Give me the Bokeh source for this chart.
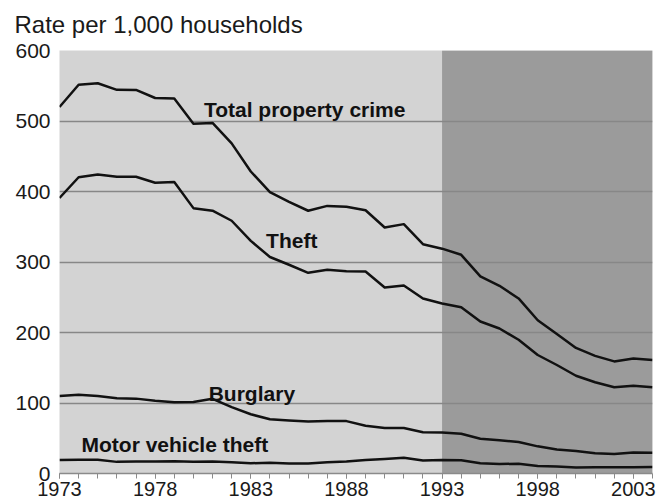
from bokeh.plotting import figure
from bokeh.models import FixedTicker
from bokeh.core.properties import value
from bokeh.embed import file_html
from bokeh.resources import INLINE

# ---- data ----
years = list(range(1973, 2005))
total_property = [519.9, 551.5, 553.6, 544.2, 544.1, 532.6, 531.8, 496.1, 497.2, 468.3,
                  428.4, 399.2, 385.4, 372.7, 379.6, 378.4, 373.4, 348.9, 353.7, 325.3,
                  318.9, 310.2, 279.5, 266.3, 248.3, 217.4, 198.0, 178.1, 166.9, 159.0,
                  163.2, 161.1]
theft = [390.8, 420.2, 424.1, 421.0, 420.9, 412.5, 413.6, 376.4, 372.8, 358.5,
         330.0, 307.1, 296.1, 284.7, 289.0, 287.0, 286.5, 263.8, 266.8, 248.2,
         241.1, 235.7, 215.6, 205.7, 189.7, 168.1, 153.9, 138.7, 129.4, 122.3,
         124.4, 122.3]
burglary = [110.0, 111.8, 110.0, 106.7, 106.2, 103.1, 100.9, 101.4, 105.9, 94.1,
            84.0, 76.9, 75.2, 73.8, 74.6, 74.3, 67.7, 64.5, 64.6, 58.6,
            58.2, 56.3, 49.3, 47.2, 44.6, 38.5, 34.1, 31.8, 28.7, 27.7,
            29.8, 29.6]
motor_vehicle = [19.1, 19.5, 19.5, 16.5, 17.0, 17.1, 17.4, 16.7, 16.9, 15.9,
                 14.6, 15.2, 14.2, 14.2, 16.0, 17.1, 19.2, 20.6, 22.2, 18.5,
                 19.0, 18.8, 14.6, 13.5, 13.8, 10.8, 10.0, 8.6, 8.8, 9.0,
                 9.0, 9.1]
label_years = [1973, 1978, 1983, 1988, 1993, 1998, 2003]
y_ticks = [0, 100, 200, 300, 400, 500, 600]
shade_start, shade_end = 1993, 2004

series_names = ["Total property crime", "Theft", "Burglary", "Motor vehicle theft"]
name_x = [1980.55, 1983.8, 1980.8, 1974.15]
name_y = [516, 330, 113, 41]

# ---- figure ----
p = figure(width=668, height=503, x_range=(1973, 2004), y_range=(0, 600),
           output_backend="svg", toolbar_location=None,
           min_border_left=59, min_border_right=16, min_border_top=50,
           min_border_bottom=30)
p.background_fill_color = "#d3d3d3"
p.border_fill_color = "white"
p.outline_line_color = None

p.title.text = "Rate per 1,000 households"
p.title.text_font = "Liberation Sans"
p.title.text_font_size = "24px"
p.title.text_font_style = "normal"
p.title.text_color = "#1a1a1a"
p.title.align = "left"
p.title.vertical_align = "top"
p.title.offset = -45
p.title.standoff = 21

# darker region
p.quad(left=[shade_start], right=[shade_end], bottom=[y_ticks[0]], top=[y_ticks[-1]],
       fill_color="#9b9b9b", line_color=None, level="image")

# axes
p.xaxis.ticker = FixedTicker(ticks=label_years, minor_ticks=years)
p.xaxis.major_label_text_font = "Liberation Sans"
p.xaxis.major_label_text_font_size = "20px"
p.xaxis.major_label_text_color = "#1a1a1a"
p.xaxis.axis_line_color = "#8a8a8a"
p.xaxis.axis_line_width = 1.5
p.xaxis.major_tick_line_color = "#8a8a8a"
p.xaxis.minor_tick_line_color = "#8a8a8a"
p.xaxis.major_tick_in = 0
p.xaxis.major_tick_out = 5
p.xaxis.minor_tick_in = 0
p.xaxis.minor_tick_out = 5
p.xaxis.major_label_standoff = 3

p.yaxis.ticker = FixedTicker(ticks=y_ticks)
p.yaxis.major_label_text_font = "Liberation Sans"
p.yaxis.major_label_text_font_size = "21px"
p.yaxis.major_label_text_color = "#1a1a1a"
p.yaxis.axis_line_color = None
p.yaxis.major_tick_line_color = None
p.yaxis.minor_tick_line_color = None
p.yaxis.major_tick_in = 0
p.yaxis.major_tick_out = 0
p.yaxis.minor_tick_in = 0
p.yaxis.minor_tick_out = 0
p.yaxis.major_label_standoff = 9

p.xgrid.visible = False
p.ygrid.grid_line_color = "#878787"
p.ygrid.grid_line_width = 1.5

for vals in (total_property, theft, burglary, motor_vehicle):
    p.line(years, vals, line_color="#111111", line_width=2.5, line_join="round")

p.text(x=name_x, y=name_y, text=series_names,
       text_font=value("Liberation Sans"), text_font_size="21px",
       text_font_style="bold", text_baseline="alphabetic", text_align="left",
       text_color="#111111")

open("out.html", "w").write(file_html(p, INLINE))
